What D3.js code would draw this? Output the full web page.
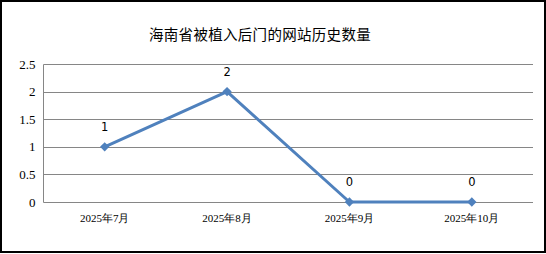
<!DOCTYPE html>
<html><head><meta charset="utf-8">
<script src="https://cdn.jsdelivr.net/npm/d3@7"></script>
<style>body{margin:0;background:#fff}svg{display:block}
.serif text{font-family:"Liberation Serif","Times New Roman","DejaVu Serif",serif}
</style>
</head><body>
<script>
const title = "海南省被植入后门的网站历史数量";
const categories = ["2025年7月","2025年8月","2025年9月","2025年10月"];
const values = [1,2,0,0];
const yTicks = [0,0.5,1,1.5,2,2.5];

const W=546,H=254;
const svg=d3.select("body").append("svg").attr("width",W).attr("height",H);
svg.append("rect").attr("x",0).attr("y",0).attr("width",W).attr("height",H).attr("fill","#fff");
svg.append("rect").attr("x",1).attr("y",1).attr("width",544).attr("height",251)
  .attr("fill","none").attr("stroke","#000").attr("stroke-width",2);

const x=d3.scaleBand().domain(categories).range([43.5,533]);
const y=d3.scaleLinear().domain([0,2.5]).range([202,64]);

svg.append("text").attr("x",260).attr("y",40).attr("text-anchor","middle")
  .style("font-family","'Noto Sans CJK SC'").style("font-size","14.5px").style("letter-spacing","0.3px")
  .attr("fill","#000").text(title);

// gridlines
svg.append("g").selectAll("line").data(yTicks).join("line")
  .attr("x1",43.5).attr("x2",533).attr("y1",d=>Math.round(y(d))+0.5).attr("y2",d=>Math.round(y(d))+0.5)
  .attr("stroke","#868686").attr("stroke-width",1);
svg.append("line").attr("x1",43.5).attr("x2",43.5).attr("y1",Math.round(y(2.5))+0.5).attr("y2",Math.round(y(0))+0.5)
  .attr("stroke","#868686");

// y axis labels
const yAxis=d3.axisLeft(y).tickValues(yTicks).tickSize(0).tickPadding(8).tickFormat(d3.format("~g"));
const ga=svg.append("g").attr("class","serif").attr("transform","translate(43.5,0)").call(yAxis).attr("font-family",null).attr("font-size",null);
ga.select(".domain").remove();
ga.selectAll("text").style("font-size","13px").attr("fill","#000");

// x axis labels
const xAxis=d3.axisBottom(x).tickSize(0).tickPadding(12);
const gx=svg.append("g").attr("class","serif").attr("transform","translate(0,202)").call(xAxis).attr("font-family",null).attr("font-size",null);
gx.select(".domain").remove();
gx.selectAll("text").style("font-size","11px").attr("fill","#000");

const cx=d=>x(d)+x.bandwidth()/2;
const line=d3.line().x((d,i)=>cx(categories[i])).y(d=>y(d));
svg.append("path").datum(values).attr("d",line).attr("fill","none")
  .attr("stroke","#4F81BD").attr("stroke-width",3).attr("stroke-linejoin","round");
svg.append("g").selectAll("path").data(values).join("path")
  .attr("d",d3.symbol().type(d3.symbolDiamond2).size(55))
  .attr("transform",(d,i)=>`translate(${cx(categories[i])},${y(d)})`)
  .attr("fill","#4F81BD");
svg.append("g").selectAll("text").data(values).join("text")
  .attr("x",(d,i)=>cx(categories[i])).attr("y",d=>y(d)-16).attr("text-anchor","middle")
  .style("font-family","'DejaVu Sans'").style("font-size","11.5px").attr("fill","#000").text(d=>d);
</script>
</body></html>
